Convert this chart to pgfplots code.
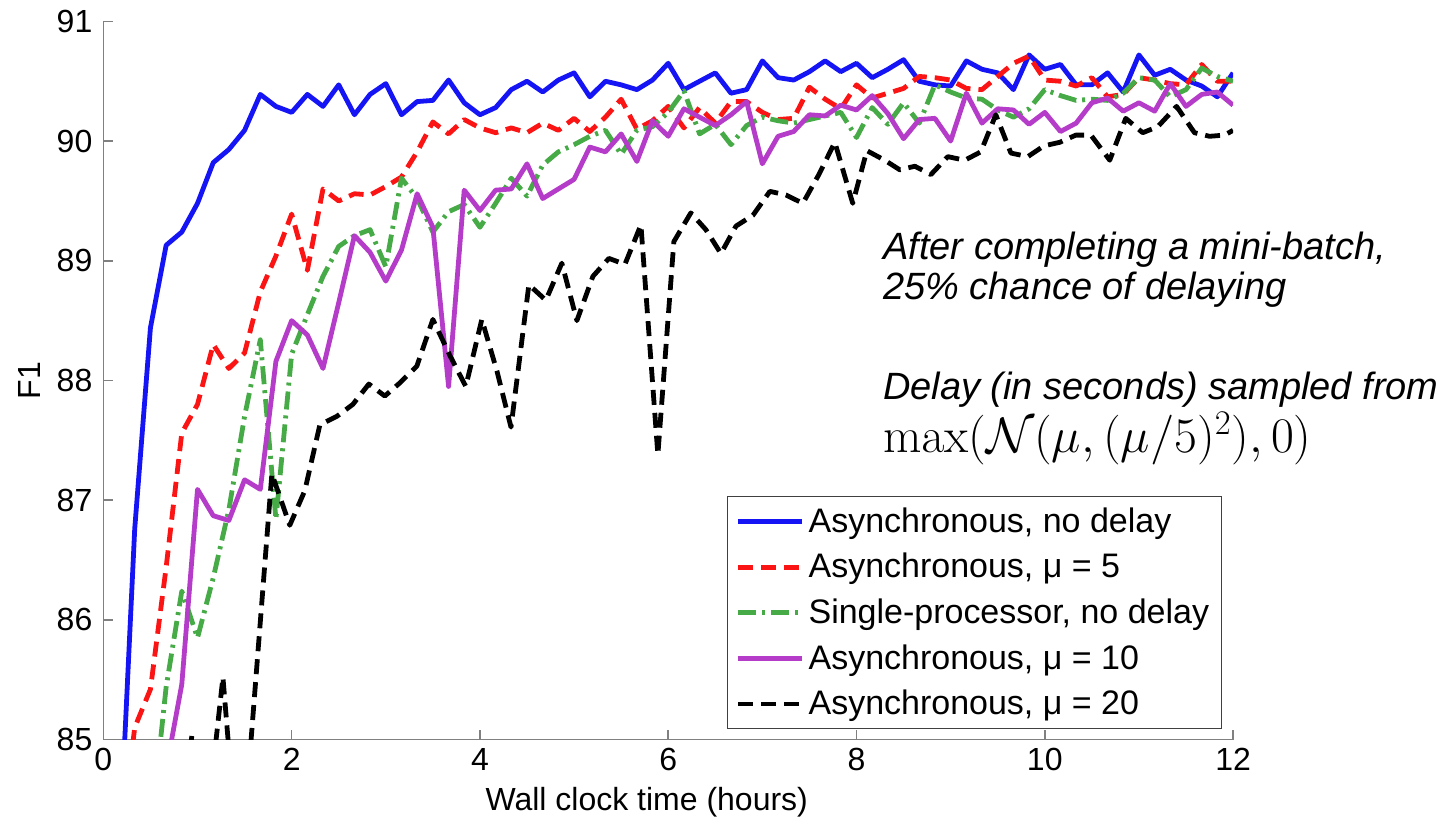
\documentclass[border=0pt]{standalone}
\usepackage[no-math]{fontspec}
\setmainfont{Liberation Sans}
\usepackage{pgfplots}
\pgfplotsset{compat=1.18}
\usepackage{pgfplotstable}
\definecolor{cblue}{RGB}{20,20,245}
\definecolor{cred}{RGB}{250,20,20}
\definecolor{cgreen}{RGB}{70,170,70}
\definecolor{cpurple}{RGB}{180,60,200}

\pgfplotstableread{
t      blue   red    green  purple
0.167  84.00  84.00  nan    nan
0.333  86.76  85.10  nan    nan
0.5    88.44  85.42  84.20  nan
0.667  89.13  86.44  85.44  84.75
0.833  89.24  87.56  86.24  85.46
1.0    89.48  87.80  85.85  87.09
1.167  89.82  88.30  86.35  86.87
1.333  89.93  88.10  86.92  86.83
1.5    90.09  88.23  87.70  87.17
1.667  90.39  88.74  88.34  87.09
1.833  90.29  89.04  86.84  88.16
2.0    90.24  89.39  88.22  88.50
2.167  90.39  88.92  88.55  88.38
2.333  90.29  89.60  88.87  88.10
2.5    90.47  89.50  89.12  88.65
2.667  90.22  89.56  89.21  89.21
2.833  90.39  89.55  89.26  89.07
3.0    90.48  89.62  88.95  88.83
3.167  90.22  89.70  89.69  89.09
3.333  90.33  89.91  89.52  89.56
3.5    90.34  90.16  89.24  89.28
3.667  90.51  90.06  89.41  87.95
3.833  90.32  90.18  89.47  89.59
4.0    90.22  90.11  89.28  89.42
4.167  90.28  90.07  89.48  89.59
4.333  90.43  90.11  89.69  89.60
4.5    90.50  90.07  89.54  89.81
4.667  90.41  90.15  89.80  89.52
4.833  90.51  90.09  89.91  89.60
5.0    90.57  90.19  89.97  89.68
5.167  90.37  90.08  90.04  89.95
5.333  90.50  90.20  90.09  89.91
5.5    90.47  90.35  89.89  90.06
5.667  90.43  90.10  90.09  89.83
5.833  90.51  90.17  90.12  90.17
6.0    90.65  90.29  90.24  90.04
6.167  90.43  90.11  90.42  90.27
6.333  90.50  90.28  90.06  90.20
6.5    90.57  90.15  90.14  90.13
6.667  90.40  90.33  89.97  90.22
6.833  90.43  90.33  90.13  90.33
7.0    90.67  90.24  90.20  89.81
7.167  90.53  90.18  90.17  90.04
7.333  90.51  90.19  90.15  90.08
7.5    90.58  90.45  90.18  90.22
7.667  90.67  90.35  90.21  90.21
7.833  90.58  90.27  90.24  90.30
8.0    90.65  90.47  90.03  90.26
8.167  90.53  90.36  90.28  90.38
8.333  90.60  90.40  90.14  90.23
8.5    90.68  90.44  90.32  90.02
8.667  90.50  90.54  90.15  90.18
8.833  90.47  90.53  90.47  90.19
9.0    90.46  90.51  90.41  90.00
9.167  90.67  90.44  90.36  90.40
9.333  90.60  90.43  90.35  90.15
9.5    90.57  90.54  90.26  90.27
9.667  90.43  90.65  90.20  90.26
9.833  90.72  90.71  90.27  90.14
10.0   90.60  90.51  90.43  90.24
10.167 90.64  90.50  90.38  90.08
10.333 90.47  90.46  90.34  90.15
10.5   90.47  90.53  90.35  90.32
10.667 90.57  90.37  90.34  90.36
10.833 90.41  90.39  90.40  90.25
11.0   90.72  90.53  90.53  90.32
11.167 90.55  90.51  90.51  90.25
11.333 90.60  90.48  90.37  90.48
11.5   90.51  90.47  90.43  90.29
11.667 90.46  90.64  90.61  90.39
11.833 90.37  90.50  90.54  90.41
12.0   90.57  90.50  90.50  90.30
}\mainruns

\pgfplotstableread{
t     f1
0.60  83.00
0.94  85.03
1.10  84.30
1.27  85.52
1.45  83.80
1.79  87.22
1.98  86.79
2.14  87.08
2.30  87.63
2.48  87.70
2.65  87.80
2.82  87.97
2.99  87.87
3.15  87.98
3.33  88.12
3.50  88.51
3.68  88.21
3.85  87.95
4.02  88.51
4.18  88.08
4.33  87.61
4.52  88.80
4.70  88.67
4.87  88.98
5.03  88.50
5.20  88.87
5.37  89.02
5.54  88.97
5.71  89.30
5.89  87.38
6.06  89.16
6.24  89.40
6.40  89.26
6.56  89.06
6.72  89.29
6.90  89.38
7.08  89.58
7.25  89.55
7.43  89.48
7.60  89.72
7.77  89.99
7.96  89.48
8.11  89.92
8.30  89.84
8.46  89.76
8.62  89.79
8.79  89.72
8.97  89.87
9.15  89.84
9.32  89.91
9.48  90.22
9.64  89.90
9.82  89.87
9.99  89.96
10.16 89.99
10.33 90.05
10.49 90.05
10.69 89.84
10.86 90.19
11.04 90.07
11.20 90.12
11.40 90.29
11.59 90.07
11.75 90.04
11.91 90.05
12.00 90.09
}\blackrun

\begin{document}
\begin{tikzpicture}
\path[use as bounding box] (-51.7pt,-41pt) rectangle (674pt,369.85pt);
\begin{axis}[
  at={(0pt,0pt)}, anchor=south west,
  scale only axis, width=565pt, height=359.15pt,
  xmin=0, xmax=12, ymin=85, ymax=91,
  xtick={0,2,...,12}, ytick={85,86,...,91},
  axis x line*=bottom, axis y line*=left,
  axis line style={gray, line width=0.8pt},
  major tick style={gray, line width=0.8pt},
  major tick length=5pt,
  tick align=inside,
  /pgf/number format/assume math mode=true,
  ticklabel style={font=\fontsize{16}{19}\selectfont},
  yticklabel style={xshift=-2pt},
  xticklabel style={yshift=-1pt},
  xlabel={Wall clock time (hours)},
  ylabel={F1},
  label style={font=\fontsize{16}{19}\selectfont},
  xlabel style={at={(axis description cs:0.481,-0.088)}, anchor=center},
  ylabel style={at={(axis description cs:-0.065,0.5)}, anchor=center},
  clip mode=individual,
  every axis plot/.append style={line width=2.4pt, line join=round},
  legend style={at={(rel axis cs:0.99,0.014)}, anchor=south east,
    draw=black!75, line width=0.6pt, fill=white,
    font=\fontsize{17}{20}\selectfont, row sep=5pt,
    inner xsep=4pt, inner ysep=3.5pt, cells={anchor=west}},
  legend image code/.code={\draw[#1, line width=2.4pt] (0pt,0pt) -- (32pt,0pt);},
]
\addplot[cblue, solid] table[x=t, y=blue] {\mainruns};
\addlegendentry{Asynchronous, no delay}
\addplot[cred, dash pattern=on 7.5pt off 4pt] table[x=t, y=red] {\mainruns};
\addlegendentry{Asynchronous, μ = 5}
\addplot[cgreen, dash pattern=on 9pt off 3pt on 1.5pt off 3pt] table[x=t, y=green] {\mainruns};
\addlegendentry{Single-processor, no delay}
\addplot[cpurple, solid] table[x=t, y=purple] {\mainruns};
\addlegendentry{Asynchronous, μ = 10}
\addplot[black, dash pattern=on 7.5pt off 4pt] table[x=t, y=f1] {\blackrun};
\addlegendentry{Asynchronous, μ = 20}

\node[anchor=base west, font=\fontsize{19}{22}\selectfont\itshape, inner sep=0pt] at (axis cs:8.28,89.01) {After completing a mini-batch,};
\node[anchor=base west, font=\fontsize{19}{22}\selectfont\itshape, inner sep=0pt] at (axis cs:8.28,88.68) {25\% chance of delaying};
\node[anchor=base west, font=\fontsize{19}{22}\selectfont\itshape, inner sep=0pt] at (axis cs:8.28,87.84) {Delay (in seconds) sampled from};
\node[anchor=base west, font=\fontsize{26}{30}\selectfont, inner sep=0pt] at (axis cs:8.28,87.40) {$\max(\mathcal{N}(\mu,(\mu/5)^2),0)$};
\end{axis}
\end{tikzpicture}
\end{document}
